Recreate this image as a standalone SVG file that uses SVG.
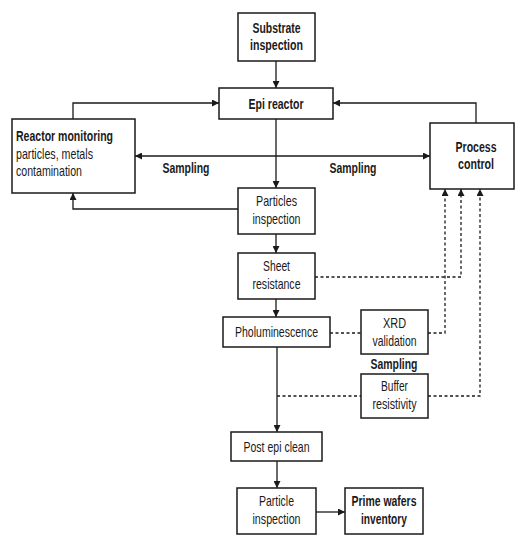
<svg xmlns="http://www.w3.org/2000/svg" width="523" height="541" viewBox="0 0 523 541">
<defs>
<marker id="ah" viewBox="0 0 10 10" refX="10" refY="5" markerWidth="7" markerHeight="7" markerUnits="userSpaceOnUse" orient="auto-start-reverse">
<path d="M0,0 L10,5 L0,10 z" fill="#1a1a1a"/>
</marker>
<style>
.box{fill:#fff;stroke:#1a1a1a;stroke-width:1.5}
.ln{fill:none;stroke:#1a1a1a;stroke-width:1.3}
.dl{fill:none;stroke:#1a1a1a;stroke-width:1.3;stroke-dasharray:3,2.5}
text{font-family:"Liberation Sans Narrow","Liberation Sans",Arial,sans-serif;font-size:14.5px;fill:#1a1a1a;text-anchor:middle}
.b{font-weight:bold}
.l{text-anchor:start}
</style>
</defs>
<rect width="523" height="541" fill="#fff"/>
<g id="connectors">
<path class="ln" d="M276,61 V88" marker-end="url(#ah)"/>
<path class="ln" d="M73,119 V103 H219" marker-end="url(#ah)"/>
<path class="ln" d="M476,123 V103 H333" marker-end="url(#ah)"/>
<path class="ln" d="M135,156 H430" marker-start="url(#ah)" marker-end="url(#ah)"/>
<path class="ln" d="M276,119 V188" marker-end="url(#ah)"/>
<path class="ln" d="M238,209 H73 V193" marker-end="url(#ah)"/>
<path class="ln" d="M276,234 V253" marker-end="url(#ah)"/>
<path class="ln" d="M276,299 V317" marker-end="url(#ah)"/>
<path class="ln" d="M277,347 V432" marker-end="url(#ah)"/>
<path class="ln" d="M277,461 V488" marker-end="url(#ah)"/>
<path class="ln" d="M316,512 H345" marker-end="url(#ah)"/>
<path class="dl" d="M315,277 H461 V189" marker-end="url(#ah)"/>
<path class="dl" d="M330,333 H361"/>
<path class="dl" d="M428,333 H445 V189" marker-end="url(#ah)"/>
<path class="dl" d="M277,396 H361"/>
<path class="dl" d="M428,396 H480 V189" marker-end="url(#ah)"/>
<text class="b" x="186" y="173" textLength="47" lengthAdjust="spacingAndGlyphs">Sampling</text>
<text class="b" x="353" y="173" textLength="47" lengthAdjust="spacingAndGlyphs">Sampling</text>
<text class="b" x="394" y="369" textLength="47" lengthAdjust="spacingAndGlyphs">Sampling</text>
</g>
<g id="substrate-inspection">
<rect class="box" x="238" y="13" width="77" height="48"/>
<text class="b" x="276.5" y="33" textLength="48" lengthAdjust="spacingAndGlyphs">Substrate</text>
<text class="b" x="276.5" y="50" textLength="53" lengthAdjust="spacingAndGlyphs">inspection</text>
</g>
<g id="epi-reactor">
<rect class="box" x="219" y="88" width="114" height="31"/>
<text class="b" x="276" y="109" textLength="55" lengthAdjust="spacingAndGlyphs">Epi reactor</text>
</g>
<g id="reactor-monitoring">
<rect class="box" x="12" y="119" width="123" height="74"/>
<text class="b l" x="16" y="141" textLength="97" lengthAdjust="spacingAndGlyphs">Reactor monitoring</text>
<text class="l" x="16" y="159" textLength="77" lengthAdjust="spacingAndGlyphs">particles, metals</text>
<text class="l" x="16" y="176" textLength="66" lengthAdjust="spacingAndGlyphs">contamination</text>
</g>
<g id="process-control">
<rect class="box" x="430" y="123" width="84" height="66"/>
<text class="b" x="476" y="152" textLength="41" lengthAdjust="spacingAndGlyphs">Process</text>
<text class="b" x="476" y="169" textLength="36" lengthAdjust="spacingAndGlyphs">control</text>
</g>
<g id="particles-inspection">
<rect class="box" x="238" y="188" width="77" height="46"/>
<text x="276.5" y="206" textLength="41" lengthAdjust="spacingAndGlyphs">Particles</text>
<text x="276.5" y="224" textLength="48" lengthAdjust="spacingAndGlyphs">inspection</text>
</g>
<g id="sheet-resistance">
<rect class="box" x="238" y="253" width="77" height="46"/>
<text x="276.5" y="271" textLength="27" lengthAdjust="spacingAndGlyphs">Sheet</text>
<text x="276.5" y="289" textLength="48" lengthAdjust="spacingAndGlyphs">resistance</text>
</g>
<g id="pholuminescence">
<rect class="box" x="223" y="317" width="107" height="30"/>
<text x="276.5" y="337" textLength="83" lengthAdjust="spacingAndGlyphs">Pholuminescence</text>
</g>
<g id="xrd-validation">
<rect class="box" x="361" y="310" width="67" height="44"/>
<text x="394.5" y="328" textLength="23" lengthAdjust="spacingAndGlyphs">XRD</text>
<text x="394.5" y="346" textLength="44" lengthAdjust="spacingAndGlyphs">validation</text>
</g>
<g id="buffer-resistivity">
<rect class="box" x="361" y="374" width="67" height="44"/>
<text x="394.5" y="391" textLength="27" lengthAdjust="spacingAndGlyphs">Buffer</text>
<text x="394.5" y="409" textLength="44" lengthAdjust="spacingAndGlyphs">resistivity</text>
</g>
<g id="post-epi-clean">
<rect class="box" x="231" y="432" width="91" height="29"/>
<text x="276.5" y="452" textLength="66" lengthAdjust="spacingAndGlyphs">Post epi clean</text>
</g>
<g id="particle-inspection">
<rect class="box" x="237" y="488" width="79" height="46"/>
<text x="276.5" y="506" textLength="35" lengthAdjust="spacingAndGlyphs">Particle</text>
<text x="276.5" y="524" textLength="48" lengthAdjust="spacingAndGlyphs">inspection</text>
</g>
<g id="prime-wafers-inventory">
<rect class="box" x="345" y="488" width="78" height="46"/>
<text class="b" x="384" y="506" textLength="65" lengthAdjust="spacingAndGlyphs">Prime wafers</text>
<text class="b" x="384" y="524" textLength="46" lengthAdjust="spacingAndGlyphs">inventory</text>
</g>
</svg>
